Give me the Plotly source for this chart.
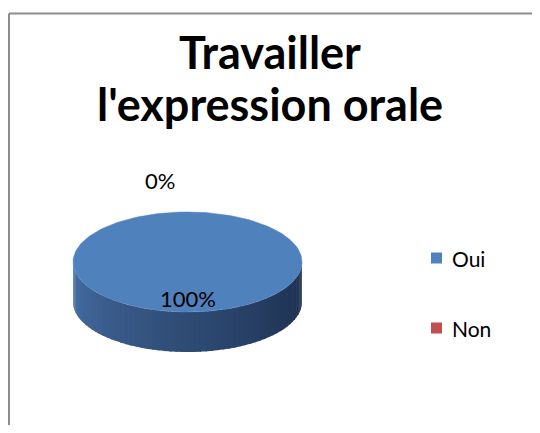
import numpy as np
import plotly.graph_objects as go

# Travailler l'expression orale
labels = ['Oui', 'Non']
values = [100, 0]
colors = ['#4F81BD', '#C0504D']

cx, cy, rx, ry, depth = 187.5, 262, 114.5, 50, 40


def ell(theta):
    # theta in degrees, 0 = 12 o'clock, clockwise
    t = np.radians(theta)
    return cx + rx * np.sin(t), cy - ry * np.cos(t)


fig = go.Figure()

# side wall (front half), shaded left to right
n = 60
for i in range(n):
    t0 = 270 - 180 * i / n
    t1 = 270 - 180 * (i + 1) / n - 0.8
    x0, y0 = ell(t0)
    x1, y1 = ell(t1)
    f = i / (n - 1)
    c0 = np.array([74, 116, 173])
    c1 = np.array([28, 46, 76])
    c = (c0 + (c1 - c0) * f ** 0.8).astype(int)
    col = 'rgb(%d,%d,%d)' % tuple(c)
    fig.add_trace(go.Scatter(
        x=[x0, x1, x1, x0, x0], y=[y0, y1, y1 + depth, y0 + depth, y0],
        fill='toself', fillcolor=col, line=dict(width=0),
        mode='lines', hoverinfo='skip', showlegend=False))

# top face slices
total = sum(values)
start = 0
for lab, v, col in zip(labels, values, colors):
    span = 360 * v / total
    if span > 0:
        th = np.linspace(start, start + span, 200)
        xs, ys = ell(th)
        if span < 360:
            xs = np.concatenate([[cx], xs, [cx]])
            ys = np.concatenate([[cy], ys, [cy]])
        fig.add_trace(go.Scatter(
            x=xs, y=ys, fill='toself', fillcolor=col,
            line=dict(color=col, width=0.5), mode='lines',
            hoverinfo='skip', showlegend=False))
    start += span

# title
for txt, y in zip(['Travailler', "l'expression orale"], [52, 104]):
    fig.add_annotation(x=270, y=y, text='<b>%s</b>' % txt, showarrow=False,
                       font=dict(size=45, color='#000000', family='Lato'))

# data labels
pct_pos = [(188, 298), (160, 180)]
for v, (x, y) in zip(values, pct_pos):
    fig.add_annotation(x=x, y=y, text='%d%%' % round(100 * v / total),
                       showarrow=False, font=dict(size=22, color='#000000'))

# legend
leg_y = [258, 328]
for lab, col, y in zip(labels, colors, leg_y):
    fig.add_shape(type='rect', x0=431, x1=442, y0=y - 5.5, y1=y + 5.5,
                  fillcolor=col, line_width=0)
    fig.add_annotation(x=450, y=y, text=lab, xanchor='left', showarrow=False,
                       font=dict(size=21, color='#000000'))

# chart border (top and left edges visible)
fig.add_shape(type='line', x0=9, x1=540, y0=13.5, y1=13.5,
              line=dict(color='#8c8c8c', width=2))
fig.add_shape(type='line', x0=9, x1=9, y0=13.5, y1=433,
              line=dict(color='#8c8c8c', width=2))

fig.update_layout(
    width=524, height=417,
    margin=dict(l=0, r=0, t=0, b=0),
    paper_bgcolor='white', plot_bgcolor='white',
    font=dict(family='Lato, Calibri, sans-serif'),
    xaxis=dict(range=[8, 532], visible=False, fixedrange=True),
    yaxis=dict(range=[425, 8], visible=False, fixedrange=True),
    showlegend=False,
)

fig.write_html("out.html", config={'displayModeBar': False})
